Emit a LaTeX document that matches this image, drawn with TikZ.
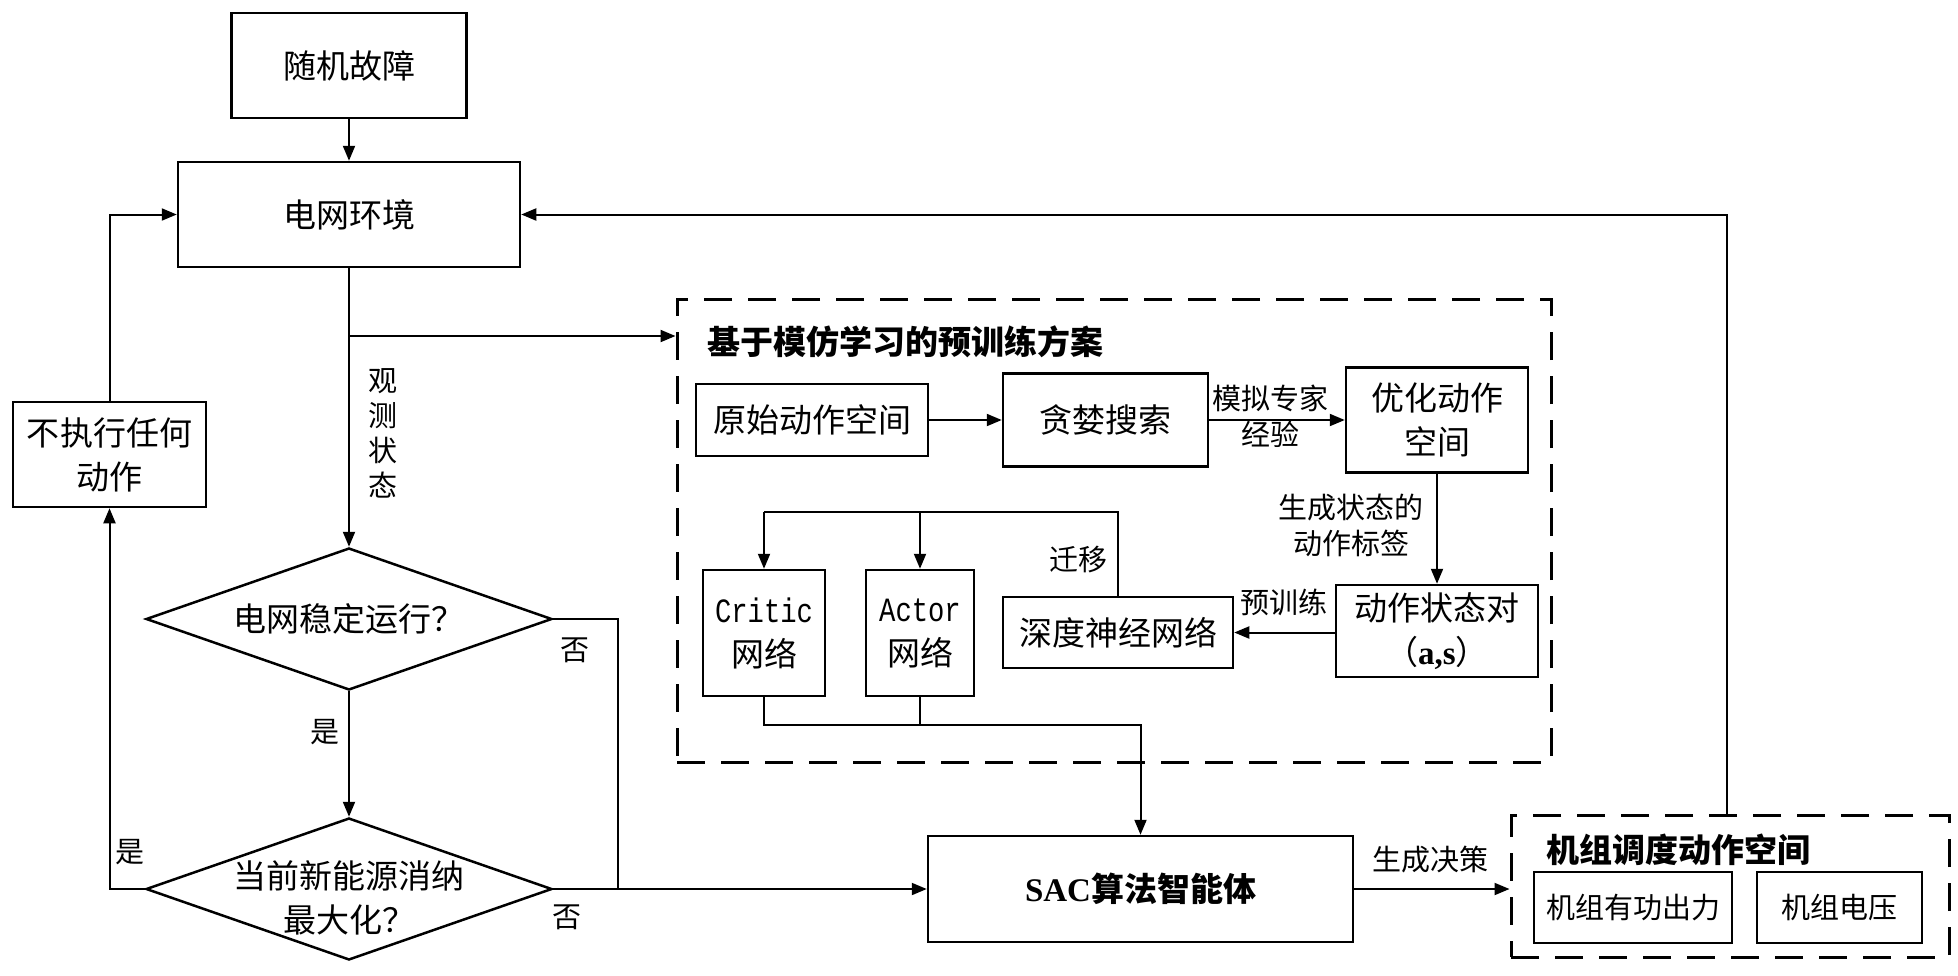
\documentclass[tikz,border=0pt]{standalone}
\usepackage{fontspec}
\setmainfont{Noto Sans CJK SC}
\newfontfamily\lat{Liberation Serif}
\newfontfamily\mono{Liberation Mono}
\usetikzlibrary{arrows.meta,shapes.geometric}
\tikzset{
 box/.style={draw, line width=2.5pt, inner sep=0pt, align=center, font=\fontsize{33}{44}\selectfont},
 lbl/.style={inner sep=0pt, align=center, font=\fontsize{29}{36}\selectfont},
 conn/.style={line width=2pt},
 arr/.style={conn, -{Triangle[length=15pt,width=12pt]}},
 dbox/.style={draw, line width=3pt, dash pattern=on 28pt off 16pt, inner sep=0pt},
 dia/.style={draw, diamond, line width=2.5pt, inner sep=0pt, minimum width=406pt, minimum height=142pt},
 ttl/.style={inner sep=0pt, anchor=west, font=\fontsize{33}{40}\selectfont\bfseries},
 dtxt/.style={inner sep=0pt, align=center, font=\fontsize{33}{44}\selectfont},
}
\begin{document}
\begin{tikzpicture}[x=1pt,y=-1pt]
\useasboundingbox (0,0) rectangle (1958,975);
% left flow
\node[box, minimum width=235pt, minimum height=105pt] (rand) at (349,65.5) {随机故障};
\node[box, minimum width=342pt, minimum height=105pt] (env) at (349,214.5) {电网环境};
\node[box, minimum width=193pt, minimum height=105pt] (noact) at (109.5,454.5) {不执行任何\\动作};
\node[dia] (d1) at (349,619) {};
\node[dtxt] (d1t) at (349,619) {电网稳定运行？};
\node[dia] (d2) at (349,889) {};
\node[dtxt] (d2t) at (349,898) {当前新能源消纳\\最大化？};
% pretraining block
\node[dbox, minimum width=874pt, minimum height=463pt] (dA) at (1114,530.5) {};
\node[ttl] (tA) at (707,342) {基于模仿学习的预训练方案};
\node[box, minimum width=232pt, minimum height=72pt] (orig) at (812,420) {原始动作空间};
\node[box, minimum width=205pt, minimum height=93pt] (greedy) at (1105.5,420) {贪婪搜索};
\node[box, minimum width=182pt, minimum height=105pt] (opt) at (1437,420) {优化动作\\空间};
\node[box, minimum width=202pt, minimum height=92pt] (pair) at (1437,631) {动作状态对\\{（}{\lat\bfseries a,s}{）}};
\node[box, minimum width=230pt, minimum height=71pt] (dnn) at (1118,632.5) {深度神经网络};
\node[box, minimum width=122pt, minimum height=126pt] (critic) at (764,633) {\scalebox{0.8}[1]{\mono\fontsize{34}{40}\selectfont Critic}\\网络};
\node[box, minimum width=108pt, minimum height=126pt] (actor) at (920,633) {\scalebox{0.8}[1]{\mono\fontsize{34}{40}\selectfont Actor}\\网络};
% SAC and action space
\node[box, minimum width=425pt, minimum height=106pt] (sac) at (1140.5,889) {{\lat\bfseries SAC}\textbf{算法智能体}};
\node[dbox, minimum width=438pt, minimum height=142pt] (dB) at (1730,886) {};
\node[ttl] (tB) at (1546,850) {机组调度动作空间};
\node[box, minimum width=198pt, minimum height=71pt, font=\fontsize{29}{36}\selectfont] (pow) at (1633,907.5) {机组有功出力};
\node[box, minimum width=165pt, minimum height=71pt, font=\fontsize{29}{36}\selectfont] (volt) at (1839.5,907.5) {机组电压};
% labels
\node[lbl, font=\fontsize{29}{35}\selectfont] (obs) at (383,433) {观\\测\\状\\态};
\node[lbl] (no1) at (575,650) {否};
\node[lbl] (no2) at (567,917) {否};
\node[lbl] (yes1) at (325,732) {是};
\node[lbl] (yes2) at (130,852) {是};
\node[lbl] (lexp) at (1270,416) {模拟专家\\经验};
\node[lbl] (lgen) at (1351,525) {生成状态的\\动作标签};
\node[lbl] (lpre) at (1284,602) {预训练};
\node[lbl] (lmig) at (1078,560) {迁移};
\node[lbl] (ldec) at (1430,860) {生成决策};
% coordinates
\coordinate (br) at (349,336);
\coordinate (j) at (618,889);
\coordinate (tc) at (764,512);
\coordinate (bc) at (764,725);
\coordinate (fb) at (1727,815);
% connectors
\draw[arr] (rand.south) -- (env.north);
\draw[arr] (env.south) -- (d1.north);
\draw[arr] (br) -- (dA.west |- br);
\draw[arr] (d1.south) -- (d2.north);
\draw[arr] (d2.west) -| (noact.south);
\draw[arr] (noact.north) |- (env.west);
\draw[conn] (d1.east) -| (j);
\draw[arr] (d2.east) -- (sac.west);
\draw[arr] (orig.east) -- (greedy.west);
\draw[arr] (greedy.east) -- (opt.west);
\draw[arr] (opt.south) -- (pair.north);
\draw[arr] (pair.west |- dnn.east) -- (dnn.east);
\draw[conn] (dnn.north) |- (tc);
\draw[arr] (tc) -- (critic.north);
\draw[arr] (actor.north |- tc) -- (actor.north);
\draw[arr] (critic.south) |- (sac.north |- bc) -- (sac.north);
\draw[conn] (actor.south) -- (actor.south |- bc);
\draw[arr] (sac.east) -- (dB.west |- sac.east);
\draw[arr] (fb) |- (env.east);
\end{tikzpicture}
\end{document}
